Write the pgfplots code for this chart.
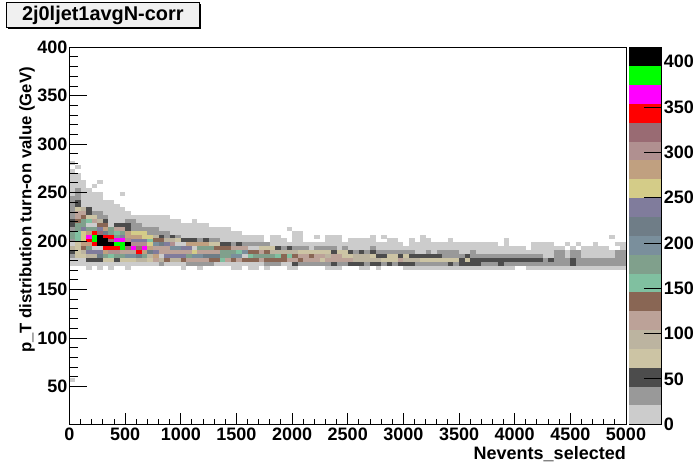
\documentclass[border=0pt]{standalone}
\usepackage{fontspec}
\setmainfont{Liberation Sans}
\usepackage{pgfplots}
\usepackage{pgfplotstable}
\pgfplotsset{compat=1.18}
\definecolor{L0}{HTML}{CCCCCC}\definecolor{L1}{HTML}{999999}\definecolor{L2}{HTML}{4C4C4C}
\definecolor{L3}{HTML}{CCC4A4}\definecolor{L4}{HTML}{BCB4A0}\definecolor{L5}{HTML}{BCA298}
\definecolor{L6}{HTML}{896654}\definecolor{L7}{HTML}{80C0A0}\definecolor{L8}{HTML}{80A08C}
\definecolor{L9}{HTML}{7A8F9C}\definecolor{L10}{HTML}{6F7D87}\definecolor{L11}{HTML}{807C9C}
\definecolor{L12}{HTML}{D4CC88}\definecolor{L13}{HTML}{C0A080}\definecolor{L14}{HTML}{B09090}
\definecolor{L15}{HTML}{996B73}\definecolor{L16}{HTML}{FF0000}\definecolor{L17}{HTML}{FF00FF}
\definecolor{L18}{HTML}{00FF00}\definecolor{L19}{HTML}{000000}
% runs of cells: start column i (50 wide), row r (4 high), n columns
\pgfplotstableread[row sep=\\]{i r n\\
0 27 1\\1 26 1\\0 25 1\\0 24 2\\0 23 2\\0 22 3\\5 22 1\\0 21 3\\4 21 1\\0 20 4\\0 19 6\\9 19 1\\0 18 6\\0 17 8\\0 16 9\\0 15 10\\0 14 11\\0 13 18\\0 12 20\\22 12 1\\0 11 25\\0 10 29\\39 10 1\\0 9 31\\40 9 2\\
0 8 35\\36 8 2\\40 8 2\\44 8 1\\46 8 3\\54 8 1\\56 8 1\\63 8 1\\97 8 1\\
0 7 35\\36 7 3\\40 7 2\\46 7 3\\50 7 5\\57 7 2\\61 7 1\\63 7 2\\68 7 1\\78 7 1\\
0 6 60\\61 6 16\\78 6 1\\83 6 4\\89 6 1\\91 6 1\\94 6 1\\98 6 2\\
0 5 82\\83 5 6\\90 5 1\\92 5 5\\99 5 1\\0 4 100\\0 3 100\\0 2 100\\0 1 100\\
3 0 1\\5 0 1\\7 0 1\\10 0 1\\20 0 1\\23 0 1\\29 0 2\\32 0 2\\35 0 1\\39 0 2\\46 0 3\\52 0 2\\55 0 1\\60 0 20\\82 0 18\\0 -29 1\\
}\Lzero
\pgfplotstableread[row sep=\\]{i r n\\
16 1 1\\21 1 5\\35 1 3\\41 1 6\\48 1 2\\53 1 1\\56 1 1\\58 1 1\\62 1 6\\69 1 1\\74 1 3\\78 1 22\\
85 2 1\\87 2 3\\91 2 9\\0 3 1\\66 3 5\\72 3 13\\87 3 2\\90 3 2\\98 3 2\\
51 4 1\\53 4 1\\55 4 7\\64 4 1\\66 4 2\\69 4 1\\67 4 2\\72 4 1\\87 4 2\\90 4 2\\98 4 2\\
38 5 1\\40 5 3\\44 5 4\\49 5 1\\54 5 1\\29 6 1\\31 6 5\\0 7 1\\23 7 1\\25 7 2\\17 8 1\\19 8 1\\14 9 4\\0 10 1\\11 10 5\\11 11 2\\10 12 2\\5 13 2\\0 13 1\\0 14 1\\4 14 2\\0 15 1\\0 16 1\\0 17 1\\0 18 1\\1 18 1\\1 19 1\\1 20 1\\
}\Lone
\pgfplotstableread[row sep=\\]{i r n\\
40 1 1\\47 1 1\\50 1 3\\54 1 2\\57 1 1\\59 1 3\\68 1 1\\70 1 4\\77 1 1\\90 1 1\\
3 2 3\\8 2 1\\70 2 1\\72 2 13\\86 2 1\\90 2 1\\55 3 2\\59 3 1\\61 3 6\\71 3 1\\
0 4 1\\47 4 1\\50 4 1\\52 4 1\\54 4 1\\37 5 1\\39 5 1\\27 6 2\\30 6 1\\20 7 3\\24 7 1\\16 8 1\\18 8 1\\10 10 1\\0 11 1\\8 11 3\\0 12 1\\6 12 1\\3 14 1\\3 15 1\\1 16 1\\1 17 1\\
}\Ltwo
\pgfplotstableread[row sep=\\]{i r n\\
6 2 2\\9 2 3\\14 2 1\\45 2 1\\56 2 3\\63 2 7\\71 2 1\\1 3 2\\49 3 2\\54 3 1\\57 3 2\\60 3 1\\1 4 1\\41 4 6\\48 4 2\\1 5 1\\34 5 3\\1 6 1\\25 6 2\\19 7 1\\3 13 2\\1 15 1\\
}\Lthree
\pgfplotstableread[row sep=\\]{i r n\\
12 2 2\\16 2 1\\18 2 2\\51 2 4\\55 2 1\\60 2 3\\3 3 2\\14 3 1\\46 3 1\\51 3 3\\2 4 1\\36 4 5\\0 5 1\\15 8 1\\17 7 2\\5 12 1\\2 15 1\\
}\Lfour
\pgfplotstableread[row sep=\\]{i r n\\
15 2 1\\21 2 4\\28 2 1\\30 2 1\\34 2 1\\39 2 2\\42 2 3\\46 2 2\\48 2 3\\59 2 1\\41 3 2\\44 3 2\\47 3 2\\9 4 3\\16 4 1\\17 4 5\\23 4 4\\34 4 1\\15 5 3\\29 5 3\\8 10 2\\4 12 1\\1 13 1\\1 14 2\\
}\Lfive
\pgfplotstableread[row sep=\\]{i r n\\
17 2 1\\20 2 1\\25 2 2\\29 2 1\\31 2 3\\35 2 4\\41 2 1\\38 3 1\\40 3 1\\43 3 1\\32 4 2\\35 4 1\\2 5 1\\26 5 3\\15 7 2\\5 11 2\\1 12 1\\2 13 1\\
}\Lsix
\pgfplotstableread[row sep=\\]{i r n\\
27 2 1\\7 3 1\\32 3 1\\37 3 1\\39 3 1\\30 4 1\\1 7 1\\14 7 1\\1 8 1\\1 9 1\\8 9 1\\3 12 1\\
}\Lseven
\pgfplotstableread[row sep=\\]{i r n\\
6 3 1\\8 3 2\\13 3 1\\21 3 1\\27 3 2\\33 3 2\\34 3 3\\27 4 3\\3 5 1\\23 5 3\\0 8 1\\8 8 1\\0 9 1\\7 9 1\\9 9 1\\1 10 1\\3 10 2\\7 10 1\\1 11 2\\2 12 1\\
}\Leight
\pgfplotstableread[row sep=\\]{i r n\\
10 3 2\\22 3 2\\29 3 2\\31 4 1\\18 5 2\\15 6 1\\
}\Lnine
\pgfplotstableread[row sep=\\]{i r n\\
12 3 1\\24 3 3\\5 3 1\\14 4 1\\16 6 1\\6 9 1\\
}\Lten
\pgfplotstableread[row sep=\\]{i r n\\
17 3 4\\3 4 3\\15 4 1\\20 5 2\\17 6 1\\11 7 3\\9 8 1\\2 10 1\\5 10 1\\
}\Leleven
\pgfplotstableread[row sep=\\]{i r n\\
22 4 1\\14 6 1\\2 7 1\\13 8 2\\2 8 1\\2 9 1\\11 9 3\\
}\Ltwelve
\pgfplotstableread[row sep=\\]{i r n\\
15 3 1\\6 4 1\\13 4 1\\14 5 1\\2 6 2\\21 6 4\\10 8 3\\3 9 1\\10 9 1\\6 10 1\\
}\Lthirteen
\pgfplotstableread[row sep=\\]{i r n\\
7 4 2\\11 6 3\\18 6 1\\10 7 1\\
}\Lfourteen
\pgfplotstableread[row sep=\\]{i r n\\
10 5 1\\12 5 1\\7 7 1\\5 9 1\\
}\Lfifteen
\pgfplotstableread[row sep=\\]{i r n\\
12 4 1\\6 5 3\\4 6 1\\3 7 1\\6 8 2\\4 9 1\\
}\Lsixteen
\pgfplotstableread[row sep=\\]{i r n\\
11 5 1\\13 5 1\\8 7 2\\3 8 1\\
}\Lseventeen
\pgfplotstableread[row sep=\\]{i r n\\
9 5 1\\8 6 2\\4 7 1\\4 8 1\\
}\Leighteen
\pgfplotstableread[row sep=\\]{i r n\\
5 6 3\\10 6 1\\5 7 2\\5 8 1\\
}\Lnineteen
\newcommand\levelplot[2]{\addplot[draw=none, no markers, forget plot,
  error bars/.cd, x dir=plus, x explicit, error mark=none,
  error bar style={draw=#2, line width=3.95pt, solid}]
  table[x expr=\thisrow{i}*50, y expr=172.7+4*\thisrow{r}, x error expr=\thisrow{n}*50]{#1};}
\newcommand\barcell[2]{\addplot[fill=L#1, draw=none, forget plot] coordinates {(0,#2)(1,#2)(1,#2+20.8)(0,#2+20.8)};}
\newcommand\lab{\fontsize{18}{20}\bfseries}
\newcommand\laby{\fontsize{16.7}{18}\bfseries}
\begin{document}
\begin{tikzpicture}[x=1pt,y=1pt]
\path[use as bounding box] (0,0) rectangle (696,472);
\begin{axis}[at={(69.5pt,47.7pt)}, anchor=south west, scale only axis, width=556.5pt, height=377pt,
  xmin=0, xmax=5000, ymin=11, ymax=400, axis on top, xtick=\empty,
  ytick={50,100,150,200,250,300,350,400}, minor y tick num=4, ytick pos=left, tick align=inside,
  major tick length=17pt, minor tick length=8.5pt, axis line style={line width=1pt},
  tick style={black, line width=1pt},
  /pgf/number format/assume math mode=true, yticklabel style={font=\lab, inner sep=1pt, xshift=-1pt}]
\levelplot{\Lzero}{L0}\levelplot{\Lone}{L1}\levelplot{\Ltwo}{L2}\levelplot{\Lthree}{L3}
\levelplot{\Lfour}{L4}\levelplot{\Lfive}{L5}\levelplot{\Lsix}{L6}\levelplot{\Lseven}{L7}
\levelplot{\Leight}{L8}\levelplot{\Lnine}{L9}\levelplot{\Lten}{L10}\levelplot{\Leleven}{L11}
\levelplot{\Ltwelve}{L12}\levelplot{\Lthirteen}{L13}\levelplot{\Lfourteen}{L14}\levelplot{\Lfifteen}{L15}
\levelplot{\Lsixteen}{L16}\levelplot{\Lseventeen}{L17}\levelplot{\Leighteen}{L18}\levelplot{\Lnineteen}{L19}
\end{axis}
\begin{axis}[at={(69.5pt,47.7pt)}, anchor=south west, scale only axis, width=556.5pt, height=377pt,
  xmin=0, xmax=5000, ymin=11, ymax=400, ytick=\empty, xtick={0,500,...,5000}, minor x tick num=4,
  xtick pos=bottom, tick align=inside, major tick length=11.3pt, minor tick length=5.5pt,
  axis line style={line width=1pt}, tick style={black, line width=1pt},
  /pgf/number format/1000 sep={}, /pgf/number format/assume math mode=true,
  xticklabel style={font=\lab, inner sep=1pt, yshift=-2pt}]
\end{axis}
\begin{axis}[at={(629pt,47.7pt)}, anchor=south west, scale only axis, width=32.7pt, height=377pt,
  xmin=0, xmax=1, ymin=0, ymax=416, axis x line=none, axis y line=right, axis on top,
  y axis line style={-, line width=1pt}, ytick={0,50,...,400}, tick align=inside, major tick length=17.7pt,
  tick style={black, line width=1pt}, /pgf/number format/assume math mode=true,
  yticklabel style={font=\lab, inner sep=1pt, xshift=1pt}]
\barcell{0}{0}\barcell{1}{20.8}\barcell{2}{41.6}\barcell{3}{62.4}\barcell{4}{83.2}
\barcell{5}{104}\barcell{6}{124.8}\barcell{7}{145.6}\barcell{8}{166.4}\barcell{9}{187.2}
\barcell{10}{208}\barcell{11}{228.8}\barcell{12}{249.6}\barcell{13}{270.4}\barcell{14}{291.2}
\barcell{15}{312}\barcell{16}{332.8}\barcell{17}{353.6}\barcell{18}{374.4}\barcell{19}{395.2}
\end{axis}
\draw[line width=1pt] (629,472-47.2) -- (661.7,472-47.2);
\draw[line width=1pt] (629,472-424.3) -- (661.7,472-424.3);
% title box
\fill[black] (8,472-29.2) rectangle (200.7,472-4);
\draw[line width=1pt, fill=black!6] (6.3,472-27.7) rectangle (199,472-2.5);
\node[anchor=center, font=\fontsize{19.9}{22}\bfseries] at (102.8,472-15) {2j0ljet1avgN-corr};
\node[anchor=south, rotate=90, font=\laby, inner sep=0pt] at (35,472-210) {p\_T distribution turn-on value (GeV)};
\node[anchor=east, font=\lab, inner sep=0pt] at (626,472-454.5) {Nevents\_selected};
\end{tikzpicture}
\end{document}
